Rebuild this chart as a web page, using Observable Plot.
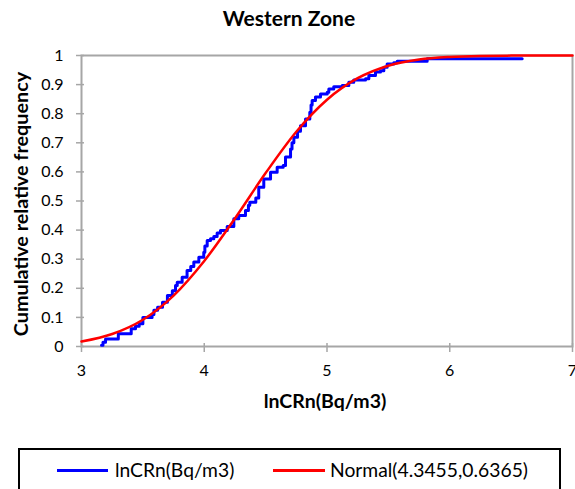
<!DOCTYPE html>
<html>
<head>
<meta charset="utf-8">
<script src="https://cdn.jsdelivr.net/npm/d3@7"></script>
<script src="https://cdn.jsdelivr.net/npm/@observablehq/plot@0.6"></script>
<style>
  html, body { margin: 0; padding: 0; background: #fff; overflow: hidden; }
  #wrap { position: relative; width: 575px; height: 489px; font-family: Lato, "Open Sans", sans-serif; color: #000; }
  #title { position: absolute; left: 0; top: 0; width: 578px; height: 36px; line-height: 36px; text-align: center; font-weight: bold; font-size: 21px; }
  #chart { position: absolute; left: 0; top: 40px; }
  #ylab { position: absolute; left: 20px; top: 204px; transform: translate(-50%, -50%) rotate(-90deg); white-space: nowrap; font-weight: bold; font-size: 19.8px; }
  #xlab { position: absolute; left: 325px; top: 400px; transform: translate(-50%, -50%); white-space: nowrap; font-weight: bold; font-size: 19.5px; }
  #legend { position: absolute; left: 18px; top: 448px; width: 543px; height: 50px; border: 2px solid #000; box-sizing: border-box; }
  .sw { position: absolute; height: 3px; top: 19px; }
  .lt { position: absolute; top: 8px; line-height: 24px; font-size: 19.3px; white-space: nowrap; }
</style>
</head>
<body>
<div id="wrap">
  <div id="title"></div>
  <div id="chart"></div>
  <div id="ylab"></div>
  <div id="xlab"></div>
  <div id="legend"></div>
</div>
<script>
// ---- data ----
const titleText = "Western Zone";
const xLabel = "lnCRn(Bq/m3)";
const yLabel = "Cumulative relative frequency";
const seriesNames = ["lnCRn(Bq/m3)", "Normal(4.3455,0.6365)"];
const seriesColors = ["#0000ff", "#ff0000"];
const xTicks = [3, 4, 5, 6, 7];
const yTicks = [0, 0.1, 0.2, 0.3, 0.4, 0.5, 0.6, 0.7, 0.8, 0.9, 1];

// empirical cumulative frequency (step positions and levels)
const ecdfX = [3.163, 3.175, 3.196, 3.300, 3.405, 3.440, 3.470, 3.500, 3.575, 3.590, 3.620, 3.660, 3.700, 3.740, 3.766, 3.780,
  3.820, 3.860, 3.890, 3.915, 3.956, 3.996, 4.005, 4.024, 4.051, 4.078, 4.105, 4.132, 4.187, 4.241, 4.281, 4.336,
  4.360, 4.371, 4.420, 4.444, 4.485, 4.540, 4.594, 4.643, 4.662, 4.703, 4.715, 4.730, 4.760, 4.784, 4.825, 4.860,
  4.870, 4.879, 4.906, 4.947, 5.002, 5.015, 5.055, 5.124, 5.178, 5.218, 5.314, 5.341, 5.395, 5.436, 5.463, 5.490,
  5.544, 5.572, 5.816, 6.590];
const ecdfY = [0.004, 0.015, 0.026, 0.044, 0.061, 0.070, 0.078, 0.100, 0.110, 0.125, 0.135, 0.152, 0.175, 0.192, 0.210, 0.221,
  0.238, 0.261, 0.275, 0.290, 0.307, 0.324, 0.345, 0.364, 0.370, 0.378, 0.390, 0.399, 0.412, 0.439, 0.450, 0.467,
  0.485, 0.496, 0.510, 0.547, 0.576, 0.599, 0.616, 0.622, 0.651, 0.679, 0.700, 0.719, 0.740, 0.759, 0.782, 0.805,
  0.830, 0.845, 0.857, 0.868, 0.874, 0.885, 0.893, 0.897, 0.908, 0.916, 0.920, 0.931, 0.943, 0.948, 0.960, 0.971,
  0.975, 0.980, 0.989, 0.989];

// fitted normal curve, read at regular x positions
const normX = [3.0, 3.25, 3.5, 3.75, 4.0, 4.25, 4.5, 4.75, 5.0, 5.25, 5.5, 5.75, 6.0, 6.25, 6.5, 6.75, 7.0];
const normY = [0.017, 0.043, 0.092, 0.175, 0.294, 0.440, 0.596, 0.738, 0.848, 0.922, 0.965, 0.986, 0.995, 0.9986, 0.9996, 0.9999, 1.0];

// ---- build ----
const ecdf = ecdfX.map((x, i) => ({x, y: ecdfY[i]}));
const norm = normX.map((x, i) => ({x, y: normY[i]}));
const grey = "#a6a6a6";
const blank = () => "";

const plot = Plot.plot({
  width: 575,
  height: 408,
  marginLeft: 81,
  marginRight: 3,
  marginTop: 15,
  marginBottom: 102,
  style: {fontFamily: "Lato, 'Open Sans', sans-serif", fontSize: "16px", color: "#000", background: "#fff", overflow: "visible"},
  x: {domain: [3, 7]},
  y: {domain: [0, 1]},
  marks: [
    Plot.frame({stroke: grey, strokeWidth: 2}),
    Plot.axisX({ticks: xTicks, tickSize: 6, tickPadding: 12, stroke: grey, strokeWidth: 1.5, fill: "#000", fontSize: 16, label: null, tickFormat: d => String(d)}),
    Plot.axisX({ticks: xTicks, tickSize: -3, stroke: grey, strokeWidth: 1.5, tickFormat: blank, label: null}),
    Plot.axisY({ticks: yTicks, tickSize: 5, tickPadding: 13, stroke: grey, strokeWidth: 1.5, fill: "#000", fontSize: 16, label: null, tickFormat: d => String(+d.toFixed(1))}),
    Plot.axisY({ticks: yTicks, tickSize: -3, stroke: grey, strokeWidth: 1.5, tickFormat: blank, label: null}),
    Plot.line(ecdf, {x: "x", y: "y", curve: "step-after", stroke: seriesColors[0], strokeWidth: 3}),
    Plot.line(norm, {x: "x", y: "y", curve: "monotone-x", stroke: seriesColors[1], strokeWidth: 2.5})
  ]
});
document.getElementById("chart").appendChild(plot);
document.getElementById("title").textContent = titleText;
document.getElementById("xlab").textContent = xLabel;
document.getElementById("ylab").textContent = yLabel;

const legend = document.getElementById("legend");
const swX = [37, 253];
const txX = [95, 310];
const swW = [51, 52];
seriesNames.forEach((name, i) => {
  const sw = document.createElement("div");
  sw.className = "sw";
  sw.style.left = swX[i] + "px";
  sw.style.width = swW[i] + "px";
  sw.style.background = seriesColors[i];
  legend.appendChild(sw);
  const t = document.createElement("div");
  t.className = "lt";
  t.style.left = txX[i] + "px";
  t.textContent = name;
  legend.appendChild(t);
});
</script>
</body>
</html>
